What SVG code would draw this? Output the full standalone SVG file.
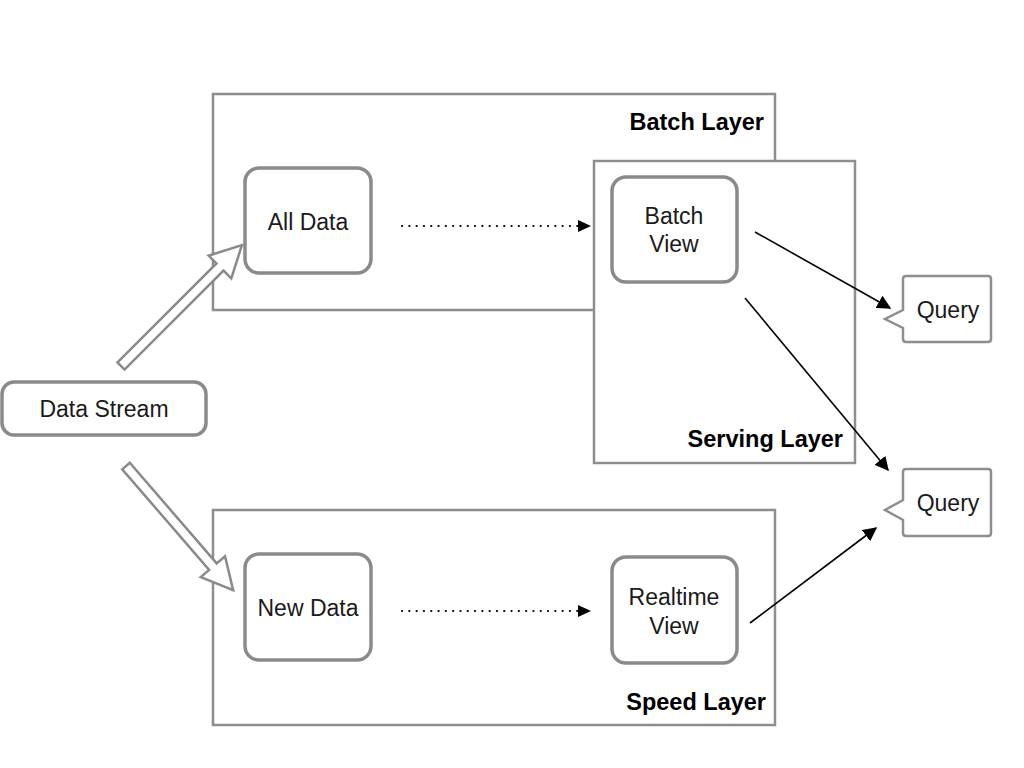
<svg xmlns="http://www.w3.org/2000/svg" width="1024" height="768" viewBox="0 0 1024 768">
<style>
.layer{fill:#fff;stroke:#8e8e8e;stroke-width:2.5}
.node{fill:#fff;stroke:#8a8a8a;stroke-width:3.5}
.lbl{font-family:"Liberation Sans",Arial,sans-serif;font-size:23px;fill:#1a1a1a;text-anchor:middle}
.ttl{font-family:"Liberation Sans",Arial,sans-serif;font-size:23.5px;font-weight:bold;fill:#000;text-anchor:end}
.blk{fill:#fff;stroke:#8a8a8a;stroke-width:2.5;stroke-linejoin:miter}
.sol{stroke:#000;stroke-width:1.6;fill:none}
.dot{stroke:#000;stroke-width:2.2;fill:none;stroke-dasharray:0.1 7.2;stroke-linecap:round}
</style>
<defs>
<marker id="ah2" viewBox="0 0 10 10" refX="9" refY="5" markerWidth="14" markerHeight="14" markerUnits="userSpaceOnUse" orient="auto">
<path d="M0,0 L10,5 L0,10 z" fill="#000"/>
</marker>
</defs>

<g id="batch-layer">
<rect class="layer" x="213" y="94" width="562" height="216"/>
<text class="ttl" x="764" y="130">Batch Layer</text>
</g>
<g id="serving-layer">
<rect class="layer" x="594" y="161" width="261" height="302"/>
<text class="ttl" x="843" y="447">Serving Layer</text>
</g>
<g id="speed-layer">
<rect class="layer" x="213" y="510" width="562" height="215"/>
<text class="ttl" x="766" y="710">Speed Layer</text>
</g>

<g id="data-stream">
<rect class="node" x="2" y="382" width="204" height="53" rx="12"/>
<text class="lbl" x="104" y="417">Data Stream</text>
</g>
<g id="all-data">
<rect class="node" x="245" y="168" width="126" height="105" rx="14"/>
<text class="lbl" x="308" y="230">All Data</text>
</g>
<g id="new-data">
<rect class="node" x="245" y="554" width="126" height="106" rx="14"/>
<text class="lbl" x="308" y="616">New Data</text>
</g>
<g id="batch-view">
<rect class="node" x="612" y="177" width="125" height="105" rx="14"/>
<text class="lbl" x="674" y="224">Batch</text>
<text class="lbl" x="674" y="252">View</text>
</g>
<g id="realtime-view">
<rect class="node" x="612" y="557" width="125" height="106" rx="14"/>
<text class="lbl" x="674" y="605">Realtime</text>
<text class="lbl" x="674" y="634">View</text>
</g>
<g id="query-1">
<path class="layer" d="M906,276 L988,276 Q991,276 991,279 L991,339 Q991,342 988,342 L906,342 Q903,342 903,339 L903,328 L885,319 L903,310 L903,279 Q903,276 906,276 Z"/>
<text class="lbl" x="948" y="318">Query</text>
</g>
<g id="query-2">
<path class="layer" d="M906,469 L988,469 Q991,469 991,472 L991,533 Q991,536 988,536 L906,536 Q903,536 903,533 L903,520 L885,510 L903,500 L903,472 Q903,469 906,469 Z"/>
<text class="lbl" x="948" y="511">Query</text>
</g>

<g id="connectors">
<polygon class="blk" transform="translate(121,366) rotate(-45)" points="0,-5 140,-5 140,-16 171,0 140,16 140,5 0,5"/>
<polygon class="blk" transform="translate(126,466) rotate(49.2)" points="0,-5 133,-5 133,-16 164,0 133,16 133,5 0,5"/>
<line class="dot" x1="402" y1="226" x2="580" y2="226"/>
<path d="M578,220 L591,226 L578,232 z" fill="#000"/>
<line class="dot" x1="402" y1="611" x2="580" y2="611"/>
<path d="M578,605 L591,611 L578,617 z" fill="#000"/>
<line class="sol" x1="755" y1="232" x2="890" y2="308" marker-end="url(#ah2)"/>
<line class="sol" x1="745" y1="298" x2="888" y2="470" marker-end="url(#ah2)"/>
<line class="sol" x1="750" y1="623" x2="876" y2="528" marker-end="url(#ah2)"/>
</g>
</svg>
